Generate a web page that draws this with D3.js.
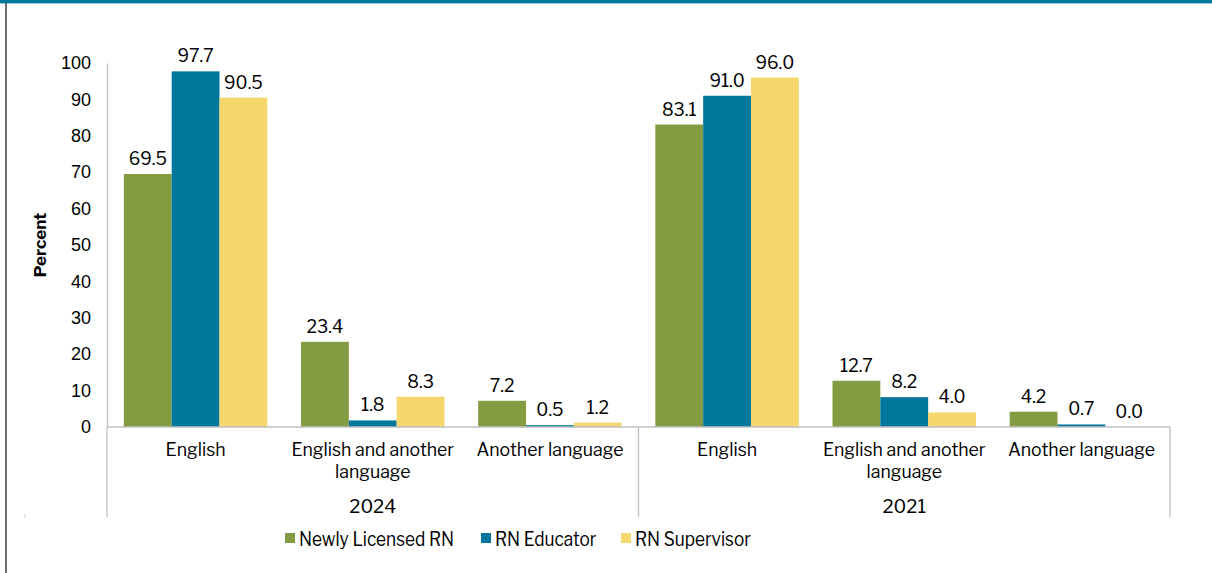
<!DOCTYPE html>
<html>
<head>
<meta charset="utf-8">
<script src="https://cdn.jsdelivr.net/npm/d3@7"></script>
<style>
  html, body { margin: 0; padding: 0; background: #fff; }
  svg { display: block; font-family: "Libre Franklin", "Noto Sans", "Liberation Sans", sans-serif; }
</style>
</head>
<body>
<svg id="chart" width="1212" height="573"></svg>
<script>
// Language spoken, by role and survey year
const years = ["2024", "2021"];
const categories = ["English", "English and another language", "Another language"];
const seriesNames = ["Newly Licensed RN", "RN Educator", "RN Supervisor"];
const newlyLicensed = [69.5, 23.4, 7.2, 83.1, 12.7, 4.2];
const rnEducator = [97.7, 1.8, 0.5, 91.0, 8.2, 0.7];
const rnSupervisor = [90.5, 8.3, 1.2, 96.0, 4.0, 0.0];
const yTicks = [0, 10, 20, 30, 40, 50, 60, 70, 80, 90, 100];
const colors = ["#849c41", "#00779b", "#f5d76b"];

const seriesValues = [newlyLicensed, rnEducator, rnSupervisor];
const rows = [];
years.forEach((yr, yi) => categories.forEach((c, ci) => rows.push({ key: yr + "|" + c, year: yr, cat: c, idx: yi * 3 + ci })));

const svg = d3.select("#chart");
const plotLeft = 107, plotRight = 1170, plotTop = 63, plotBottom = 427;

// frame: top band and left rule
svg.append("rect").attr("x", 0).attr("y", 0).attr("width", 1212).attr("height", 3).attr("fill", "#00779b");
svg.append("rect").attr("x", 0).attr("y", 3).attr("width", 1212).attr("height", 1).attr("fill", "#9cc9d8");
svg.append("line").attr("x1", 6).attr("x2", 6).attr("y1", 3).attr("y2", 573).attr("stroke", "#404040").attr("stroke-width", 1.5);

const x0 = d3.scaleBand().domain(rows.map(r => r.key)).range([plotLeft, plotRight]).paddingInner(0.19).paddingOuter(0.095);
const x1 = d3.scaleBand().domain(seriesNames).range([0, x0.bandwidth()]);
const y = d3.scaleLinear().domain([0, 100]).range([plotBottom, plotTop]);

// y axis
const yAxis = d3.axisLeft(y).tickValues(yTicks).tickSize(0).tickPadding(16);
const yg = svg.append("g").attr("transform", `translate(${plotLeft},0)`).call(yAxis);
yg.select(".domain").attr("stroke", "#bfbfbf").attr("stroke-width", 1.3);
yg.selectAll("text").attr("font-size", 18).attr("fill", "#000").style("font-family", "inherit");

svg.append("text").attr("transform", `translate(46,${(plotTop + plotBottom) / 2}) rotate(-90)`)
  .attr("text-anchor", "middle").attr("font-size", 17).attr("font-weight", "bold").text("Percent");

// bars
const groups = svg.append("g").selectAll("g").data(rows).join("g")
  .attr("transform", d => `translate(${x0(d.key)},0)`);
groups.selectAll("rect").data(d => seriesNames.map((s, si) => ({ s, si, v: seriesValues[si][d.idx] }))).join("rect")
  .attr("x", d => x1(d.s)).attr("width", x1.bandwidth())
  .attr("y", d => y(d.v)).attr("height", d => plotBottom - y(d.v))
  .attr("fill", d => colors[d.si]);
groups.selectAll("text.val").data(d => seriesNames.map((s, si) => ({ s, si, v: seriesValues[si][d.idx] }))).join("text")
  .attr("class", "val")
  .attr("x", d => x1(d.s) + x1.bandwidth() / 2).attr("y", d => y(d.v) - 9)
  .attr("text-anchor", "middle").attr("font-size", 17.5).attr("fill", "#000")
  .text(d => d3.format(".1f")(d.v));

// category axis with year grouping
svg.append("line").attr("x1", plotLeft).attr("x2", plotRight).attr("y1", plotBottom).attr("y2", plotBottom).attr("stroke", "#bfbfbf").attr("stroke-width", 1.3);
const yearW = (plotRight - plotLeft) / years.length;
years.forEach((yr, yi) => {
  const xx = plotLeft + yearW * (yi + 1);
  svg.append("line").attr("x1", xx).attr("x2", xx).attr("y1", plotBottom).attr("y2", 517).attr("stroke", "#bfbfbf").attr("stroke-width", 1.3);
  svg.append("text").attr("x", plotLeft + yearW * (yi + 0.5)).attr("y", 513).attr("text-anchor", "middle")
    .attr("font-size", 18.5).text(yr);
});
svg.append("line").attr("x1", plotLeft).attr("x2", plotLeft).attr("y1", plotBottom).attr("y2", 517).attr("stroke", "#bfbfbf").attr("stroke-width", 1.3);
svg.append("line").attr("x1", 25).attr("x2", 25).attr("y1", 514).attr("y2", 518).attr("stroke", "#d0d0d0").attr("stroke-width", 1);

const wrap = { "English and another language": ["English and another", "language"] };
rows.forEach(r => {
  const cx = x0(r.key) + x0.bandwidth() / 2;
  const lines = wrap[r.cat] || [r.cat];
  const t = svg.append("text").attr("x", cx).attr("y", 456).attr("text-anchor", "middle").attr("font-size", 17.7);
  lines.forEach((ln, i) => t.append("tspan").attr("x", cx).attr("dy", i ? 22 : 0).text(ln));
});

// legend (slightly condensed lettering)
const legendX = [285, 481, 621];
seriesNames.forEach((s, i) => {
  svg.append("rect").attr("x", legendX[i]).attr("y", 533).attr("width", 10).attr("height", 10).attr("fill", colors[i]);
  svg.append("text").attr("transform", `translate(${legendX[i] + 14},545.5) scale(0.84,1)`)
    .attr("font-size", 20.5).text(s);
});
</script>
</body>
</html>
